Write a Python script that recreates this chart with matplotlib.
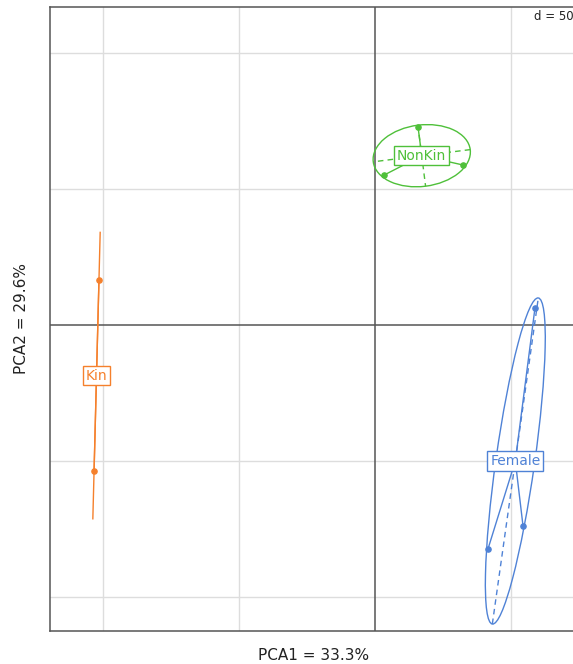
import numpy as np
import matplotlib
matplotlib.use("Agg")
import matplotlib.pyplot as plt
from matplotlib.patches import Ellipse

# PCA scores (units of the d = 50 grid)
groups = ["Kin", "NonKin", "Female"]
colors = ["#F5802C", "#4FC03A", "#4F82D6"]
kin_x = [-101.5, -103.3]
kin_y = [16.5, -53.7]
nonkin_x = [15.8, 32.4, 3.3]
nonkin_y = [72.8, 58.8, 55.1]
female_x = [58.8, 54.4, 41.5]
female_y = [6.3, -73.9, -82.4]
pca1_lab = "PCA1 = 33.3%"
pca2_lab = "PCA2 = 29.6%"

W, H = 573, 664
fig = plt.figure(figsize=(W / 100, H / 100), dpi=100)
left, right, top, bottom = 50, 600, 7, 631
ax = fig.add_axes([left / W, (H - bottom) / H, (right - left) / W, (bottom - top) / H])
ax.set_xlim(-119.5, 82.7)
ax.set_ylim(-112.5, 116.9)

for v in [-100, -50, 50]:
    ax.axvline(v, color="#dddddd", lw=1, zorder=0)
for v in [-100, -50, 50, 100]:
    ax.axhline(v, color="#dddddd", lw=1, zorder=0)
ax.axvline(0, color="#555555", lw=1.1, zorder=1)
ax.axhline(0, color="#555555", lw=1.1, zorder=1)

# d = 50 label in the top right corner
fig.text(534 / W, 1 - 17 / H, "d = 50", ha="left", va="center", fontsize=8.5, color="#222222")

data = [(kin_x, kin_y), (nonkin_x, nonkin_y), (female_x, female_y)]
for name, col, (xs, ys) in zip(groups, colors, data):
    xs = np.array(xs)
    ys = np.array(ys)
    cx, cy = xs.mean(), ys.mean()
    cov = np.cov(np.vstack([xs, ys]), bias=True)
    vals, vecs = np.linalg.eigh(cov)
    vals = np.clip(vals, 0, None)
    # star segments
    for x, y in zip(xs, ys):
        ax.plot([cx, x], [cy, y], color=col, lw=1, zorder=4)
    ax.scatter(xs, ys, s=14, color=col, zorder=5)
    # ellipse (1.5 sd) and its axes
    ang = np.degrees(np.arctan2(vecs[1, 1], vecs[0, 1]))
    a = 1.5 * np.sqrt(vals[1])
    b = 1.5 * np.sqrt(vals[0])
    if b < 1e-6:
        ax.plot([cx - a * vecs[0, 1], cx + a * vecs[0, 1]],
                [cy - a * vecs[1, 1], cy + a * vecs[1, 1]], color=col, lw=1, zorder=4)
    else:
        ax.add_patch(Ellipse((cx, cy), 2 * a, 2 * b, angle=ang, fill=False,
                             edgecolor=col, lw=1, zorder=4))
        for k, r in [(1, a), (0, b)]:
            ax.plot([cx - r * vecs[0, k], cx + r * vecs[0, k]],
                    [cy - r * vecs[1, k], cy + r * vecs[1, k]],
                    color=col, lw=1, ls=(0, (4, 3)), zorder=4)
    ax.text(cx, cy, name, ha="center", va="center", fontsize=10, color=col, zorder=6,
            bbox=dict(boxstyle="square,pad=0.2", facecolor="white", edgecolor=col, lw=1))

for s in ["left", "top", "bottom"]:
    ax.spines[s].set_color("#555555")
    ax.spines[s].set_linewidth(1.1)
ax.spines["right"].set_visible(False)
ax.set_xticks([])
ax.set_yticks([])

fig.text(314 / W, 1 - 655 / H, pca1_lab, ha="center", va="center", fontsize=11, color="#222222")
fig.text(22 / W, 1 - 318 / H, pca2_lab, ha="center", va="center", fontsize=11,
         color="#222222", rotation=90)

fig.savefig("out.png", dpi=100)
